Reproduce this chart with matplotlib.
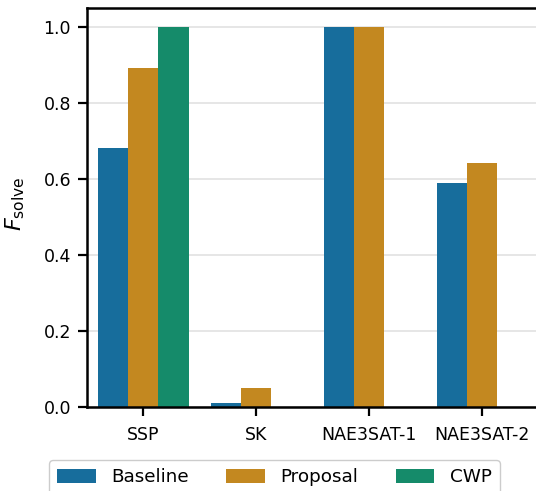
import numpy as np
import matplotlib
matplotlib.use("Agg")
import matplotlib.pyplot as plt
import colorsys
from matplotlib.colors import to_rgb

# Fraction of instances solved, per problem family and method
categories = ["SSP", "SK", "NAE3SAT-1", "NAE3SAT-2"]
methods = ["Baseline", "Proposal", "CWP"]
baseline = [0.68, 0.01, 1.0, 0.59]
proposal = [0.89, 0.05, 1.0, 0.64]
cwp = [1.0, np.nan, np.nan, np.nan]
yticks = [0.0, 0.2, 0.4, 0.6, 0.8, 1.0]


def desaturate(color, prop=0.75):
    h, l, s = colorsys.rgb_to_hls(*to_rgb(color))
    return colorsys.hls_to_rgb(h, l, s * prop)


palette = [desaturate(c) for c in ["#0173b2", "#de8f05", "#029e73"]]

W, H = 536, 491
fig = plt.figure(figsize=(W / 100, H / 100), dpi=100)
left, right, bottom, top = 87, 538.5, 407, 7.5
ax = fig.add_axes([left / W, (H - bottom) / H, (right - left) / W, (bottom - top) / H])

x = np.arange(len(categories))
width = 0.8 / len(methods)
series = [baseline, proposal, cwp]
for i, (name, vals) in enumerate(zip(methods, series)):
    offs = (i - (len(methods) - 1) / 2) * width
    ax.bar(x + offs, vals, width=width, color=palette[i], label=name,
           linewidth=0, zorder=2)

ax.set_xlim(-0.5, len(categories) - 0.5)
ax.set_ylim(0, 1.05)
ax.set_xticks(x)
ax.set_xticklabels(categories)
ax.set_yticks(yticks)
ax.set_yticklabels([f"{v:.1f}" for v in yticks])

ax.grid(axis="y", color="#e6e6e6", linewidth=1.4, zorder=0)
ax.set_axisbelow(True)
for sp in ax.spines.values():
    sp.set_linewidth(1.8)
ax.tick_params(axis="both", labelsize=12.5, length=6.5, width=1.6, pad=5)
ax.tick_params(axis="x", pad=7)

ax.set_ylabel(r"$F_{\mathrm{solve}}$", fontsize=16)
ax.yaxis.set_label_coords((27 - left) / (right - left), 0.509)

fig.legend(loc="upper center", bbox_to_anchor=(274.5 / W, (H - 451) / H),
           ncol=3, fontsize=13.2, frameon=True, fancybox=True,
           edgecolor="#cccccc", framealpha=1.0,
           handlelength=2.1, handleheight=0.75, columnspacing=2.05,
           handletextpad=0.85, borderpad=0.45)

fig.savefig("out.png", dpi=100)
